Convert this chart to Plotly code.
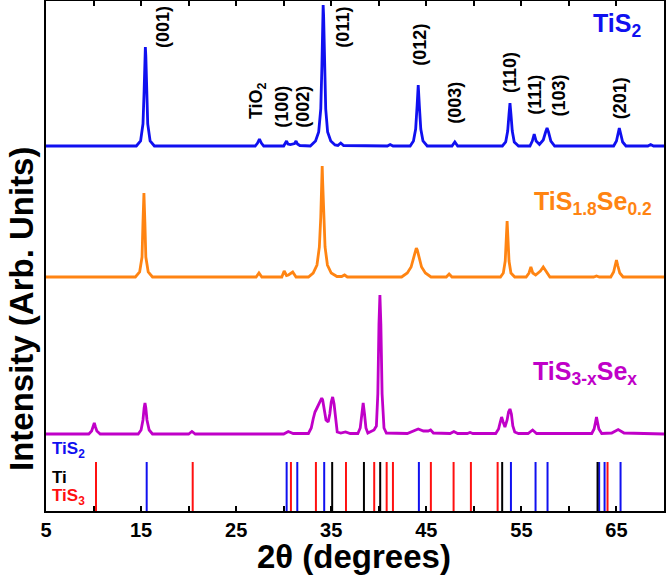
import plotly.graph_objects as go

# ---------------- data ----------------
# 2theta (deg) and intensity (arb. units, above each pattern's baseline)
BLUE_X = [5, 10, 14.5, 14.95, 15.2, 15.32, 15.4, 15.45, 15.5, 15.58, 15.7, 15.95, 16.4, 20,
          27.0, 27.25, 27.45, 27.65, 27.9, 30.0, 30.15, 30.3, 30.45, 30.7, 31.15, 31.3, 31.45, 31.7,
          32.8, 33.35, 33.68, 33.9, 34.02, 34.1, 34.15, 34.2, 34.3, 34.42, 34.62, 34.95, 35.4, 35.7,
          36.0, 36.3, 40.9, 41.2, 41.5, 43.3, 43.65, 43.88, 44.03, 44.15, 44.27, 44.42, 44.65, 45.1,
          47.7, 48.0, 48.3, 53.0, 53.35, 53.56, 53.7, 53.8, 53.9, 54.04, 54.25, 54.7, 55.9, 56.15,
          56.35, 56.55, 56.9, 57.3, 57.55, 57.7, 57.85, 58.1, 58.5, 64.7, 65.0, 65.15, 65.3, 65.45,
          65.65, 66.0, 68.3, 68.6, 68.9, 70]
BLUE_Y = [0, 0, 0, 5, 22, 55, 90, 99, 90, 55, 22, 5, 0, 0,
          0, 3, 7, 3, 0, 0, 2, 5, 2, 1.5, 2.5, 5, 2, 0.5,
          0, 5, 14, 37, 80, 130, 141, 130, 80, 37, 14, 5, 1, 0.5,
          3, 0.5, 0, 1.5, 0, 0, 5, 17, 40, 61, 40, 17, 5, 0,
          0, 4, 0, 0, 4, 15, 32, 43, 32, 15, 4, 0, 0, 5,
          12, 5, 1.5, 6, 14, 18, 14, 5, 0, 0, 5, 12, 18, 12,
          4, 0, 0, 1.5, 0, 0]

ORANGE_X = [5, 14.4, 14.85, 15.1, 15.2, 15.3, 15.4, 15.5, 15.75, 16.2, 20, 27.1, 27.4, 27.7,
            29.8, 30.05, 30.3, 30.5, 30.95, 31.3, 32.6, 33.1, 33.5, 33.75, 33.9, 34.0, 34.05,
            34.1, 34.2, 34.35, 34.6, 35.0, 35.6, 36.1, 36.4, 36.7, 42.4, 43.0, 43.4, 43.65,
            43.85, 43.95, 44.05, 44.25, 44.5, 44.9, 45.5, 47.1, 47.4, 47.7, 52.8, 53.1, 53.3,
            53.42, 53.5, 53.58, 53.7, 53.9, 54.3, 55.5, 55.8, 56.0, 56.2, 56.5, 57.0, 57.3,
            57.6, 58.0, 62.6, 62.9, 63.2, 64.4, 64.7, 64.85, 65.0, 65.15, 65.35, 65.7, 70]
ORANGE_Y = [0, 0, 5, 20, 55, 84, 55, 20, 5, 0, 0, 0, 4, 0,
            0, 6, 1.5, 2, 5, 0, 0, 4, 12, 30, 60, 95, 111,
            95, 60, 30, 12, 4, 0.5, 0.5, 2, 0, 0, 4, 10, 18,
            27, 29, 27, 18, 10, 4, 0, 0, 3, 0, 0, 4, 16,
            40, 56, 40, 16, 4, 0, 0, 4, 10, 4, 2, 6, 10,
            6, 0, 0, 1, 0, 0, 5, 11, 17, 11, 4, 0, 0]

PURPLE_X = [5, 9.5, 9.8, 9.95, 10.08, 10.2, 10.35, 10.7, 14.7, 15.0, 15.2, 15.32, 15.41, 15.5,
            15.62, 15.85, 16.2, 20.0, 20.35, 20.7, 30.0, 30.48, 31.0, 32.6, 32.9, 33.1, 33.29,
            33.5, 33.8, 34.0, 34.1, 34.25, 34.45, 34.68, 34.85, 35.0, 35.15, 35.3, 35.45, 35.63,
            36.0, 36.5, 37.0, 37.8, 38.05, 38.22, 38.36, 38.5, 38.65, 38.85, 39.2, 39.5, 39.75,
            39.9, 40.02, 40.12, 40.22, 40.35, 40.55, 40.8, 43.0, 43.6, 44.15, 44.7, 45.2, 45.45,
            45.75, 47.5, 47.9, 48.3, 49.3, 49.6, 49.9, 52.3, 52.6, 52.78, 52.92, 53.08, 53.27,
            53.5, 53.65, 53.8, 53.95, 54.1, 54.3, 54.7, 55.7, 56.18, 56.6, 62.4, 62.65, 62.8,
            62.9, 63.0, 63.15, 63.45, 64.5, 65.18, 65.8, 70]
PURPLE_Y = [0, 0, 3, 7, 11, 7, 3, 0, 0, 4, 14, 26, 31, 26,
            14, 4, 0, 0, 2.5, 0, 0, 2.5, 0.5, 0.5, 6, 15, 22,
            26, 33, 36, 34, 24, 14, 12, 20, 32, 37, 30, 14, 2,
            1, 2, 0.5, 0.5, 6, 20, 31, 20, 6, 1, 3, 4, 8,
            40, 110, 139, 110, 40, 6, 1, 0.5, 3, 5, 3, 3, 4,
            1, 0.5, 2.5, 0.5, 0.5, 1.5, 0.5, 0.5, 5, 12, 17, 12, 7,
            14, 22, 25, 20, 8, 2, 0.5, 0.5, 4, 0.5, 0.5, 5, 12,
            17, 12, 5, 0.5, 1, 4.5, 1, 0]

# reference pattern line positions (2theta)
REF_TIS2 = [15.59, 30.31, 31.43, 34.26, 44.22, 53.9, 56.49, 57.75, 63.18, 63.75, 65.43]
REF_TI = [35.1, 38.44, 40.15, 52.98, 63.01]
REF_TIS3 = [10.26, 20.43, 30.76, 33.39, 36.55, 39.52, 40.83, 41.49, 45.48, 47.87, 49.69, 52.5, 64.06]

# Miller-index labels on TiS2 pattern
HKL_LABELS = ["(001)", "TiO<sub>2</sub>", "(100)", "(002)", "(011)", "(012)", "(003)",
              "(110)", "(111)", "(103)", "(201)"]
HKL_POS = [17.3, 27.2, 29.8, 32.0, 36.2, 44.3, 48.0, 53.8, 56.4, 59.0, 65.4]

X_TICKS = [5, 10, 15, 20, 25, 30, 35, 40, 45, 50, 55, 60, 65, 70]
X_TICKTEXT = ["5", "", "15", "", "25", "", "35", "", "45", "", "55", "", "65", ""]

assert len(BLUE_X) == len(BLUE_Y)
assert len(ORANGE_X) == len(ORANGE_Y)
assert len(PURPLE_X) == len(PURPLE_Y)

# ---------------- style ----------------
C_BLUE = "#1010F0"
C_ORANGE = "#FF8412"
C_PURPLE = "#C000C8"
C_RED = "#FF1010"
FONT = "Arial, Liberation Sans, sans-serif"
OFFSETS = {"blue": 365, "orange": 234, "purple": 77}
REF_H = 49
HKL_Y = [484, 410, 404, 404, 484, 466, 408, 439, 416, 416, 413]

fig = go.Figure()

for xs, ys, col, off in [(BLUE_X, BLUE_Y, C_BLUE, OFFSETS["blue"]),
                         (ORANGE_X, ORANGE_Y, C_ORANGE, OFFSETS["orange"]),
                         (PURPLE_X, PURPLE_Y, C_PURPLE, OFFSETS["purple"])]:
    fig.add_trace(go.Scatter(x=xs, y=[v + off for v in ys], mode="lines",
                             line=dict(color=col, width=2.8), hoverinfo="skip"))

for pos, col in [(REF_TIS2, C_BLUE), (REF_TI, "black"), (REF_TIS3, C_RED)]:
    lx, ly = [], []
    for p in pos:
        lx += [p, p, None]
        ly += [0, REF_H, None]
    fig.add_trace(go.Scatter(x=lx, y=ly, mode="lines",
                             line=dict(color=col, width=2), hoverinfo="skip"))

ann = []
for txt, xp, yp in zip(HKL_LABELS, HKL_POS, HKL_Y):
    ann.append(dict(x=xp, y=yp, xref="x", yref="y", text=txt, showarrow=False,
                    textangle=-90, font=dict(family=FONT, size=18, color="black", weight="bold")))

ann.append(dict(x=65.1, y=486, xref="x", yref="y", text="TiS<sub>2</sub>", showarrow=False,
                font=dict(family=FONT, size=25, color=C_BLUE, weight="bold")))
ann.append(dict(x=62.5, y=308, xref="x", yref="y", text="TiS<sub>1.8</sub>Se<sub>0.2</sub>",
                showarrow=False, font=dict(family=FONT, size=25, color=C_ORANGE, weight="bold")))
ann.append(dict(x=61.7, y=138, xref="x", yref="y", text="TiS<sub>3-x</sub>Se<sub>x</sub>",
                showarrow=False, font=dict(family=FONT, size=25, color=C_PURPLE, weight="bold")))

for txt, col, yp in [("TiS<sub>2</sub>", C_BLUE, 61), ("Ti", "black", 34), ("TiS<sub>3</sub>", C_RED, 14)]:
    ann.append(dict(x=5.4, y=yp, xref="x", yref="y", text=txt, showarrow=False, xanchor="left",
                    font=dict(family=FONT, size=17, color=col, weight="bold")))

# axis titles
ann.append(dict(x=0.498, y=0, xref="paper", yref="paper", yshift=-45, yanchor="middle",
                text="2θ (degrees)", showarrow=False,
                font=dict(family=FONT, size=33, color="black", weight="bold")))
ann.append(dict(x=0, y=0.396, xref="paper", yref="paper", xshift=-25, xanchor="center",
                yanchor="middle", textangle=-90, text="Intensity (Arb. Units)", showarrow=False,
                font=dict(family=FONT, size=33, color="black", weight="bold")))

fig.update_layout(
    width=666, height=579,
    margin=dict(l=46, r=2, t=1, b=68, autoexpand=False),
    plot_bgcolor="white", paper_bgcolor="white",
    showlegend=False,
    font=dict(family=FONT, color="black"),
    annotations=ann,
    xaxis=dict(range=[5, 70], tickvals=X_TICKS, ticktext=X_TICKTEXT, automargin=False,
               ticks="inside", ticklen=5, tickwidth=2, tickcolor="black",
               showline=True, linewidth=2, linecolor="black", mirror="ticks",
               showgrid=False, zeroline=False,
               tickfont=dict(family=FONT, size=20, color="black", weight="bold")),
    yaxis=dict(range=[0, 510], showticklabels=False, ticks="", automargin=False,
               showline=True, linewidth=2, linecolor="black", mirror=True,
               showgrid=False, zeroline=False),
)

fig.write_html("out.html", config={"displayModeBar": False},
               post_script="document.body.style.margin='0px';")
